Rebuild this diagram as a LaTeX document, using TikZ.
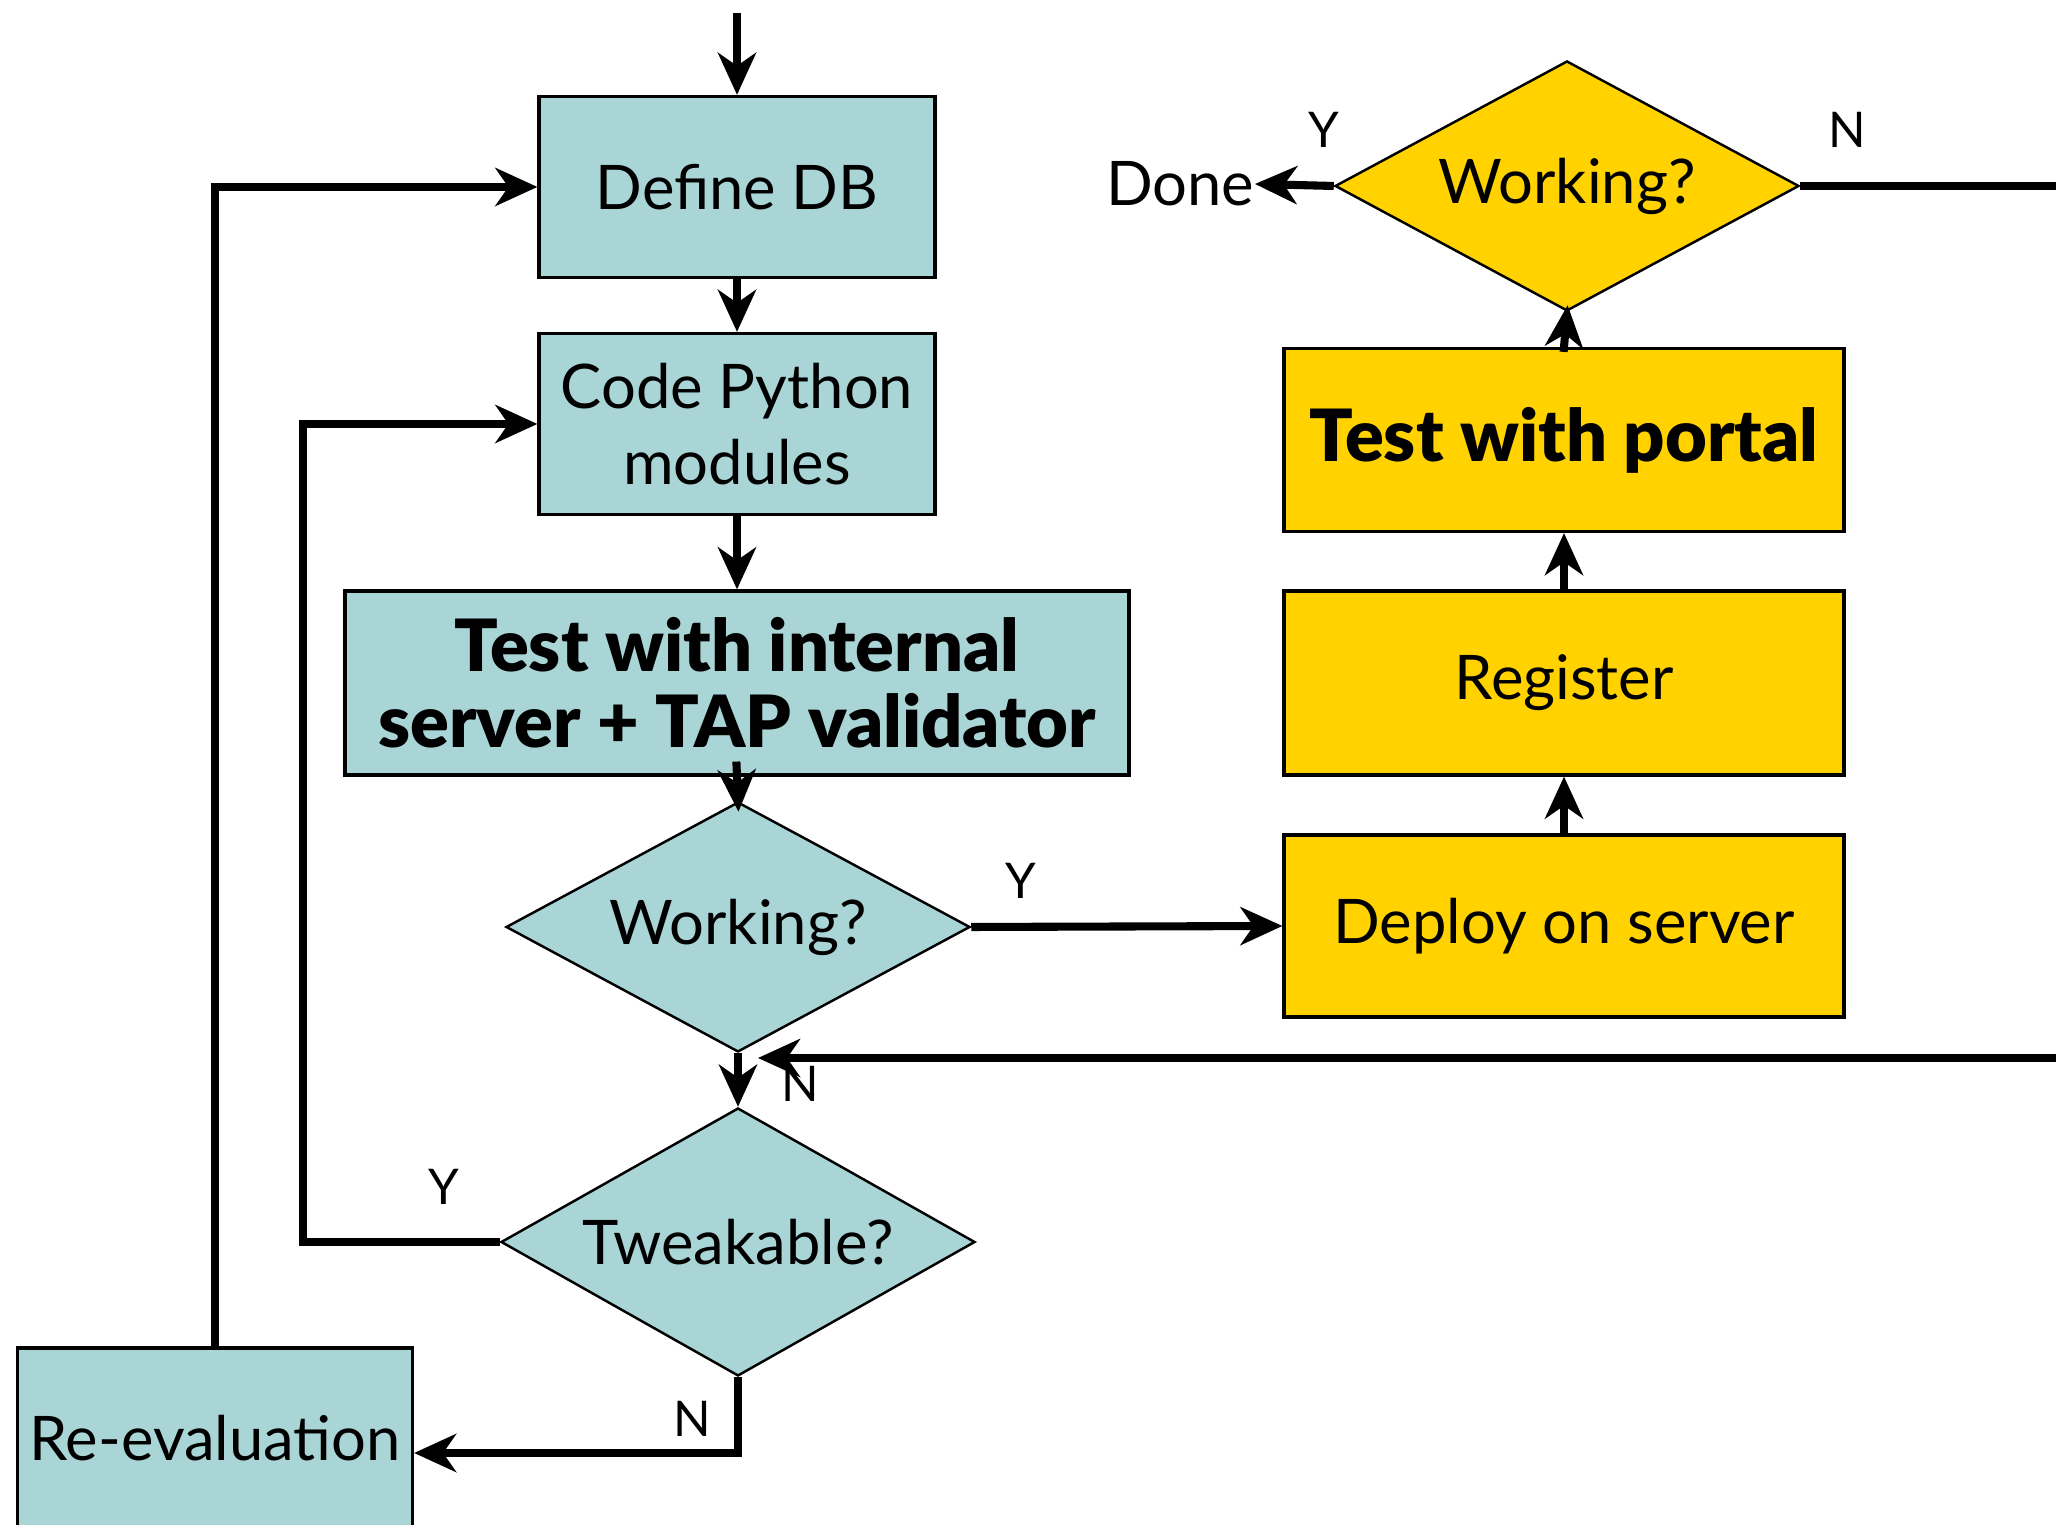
\documentclass[tikz,border=0pt]{standalone}
\usepackage{fontspec}
\setmainfont{Lato}[BoldFont={Lato Black}]
\usepackage{tikz}
\usetikzlibrary{shapes.geometric,arrows.meta}
\definecolor{teal1}{RGB}{169,213,214}
\definecolor{gold1}{RGB}{255,210,0}

\begin{document}
\begin{tikzpicture}[
  box/.style={draw, line width=0.9pt, align=center, inner sep=0pt, font=\fontsize{17.5}{21.5}\selectfont},
  dia/.style={draw, diamond, line width=0.7pt, inner sep=0pt, font=\fontsize{17.5}{21.5}\selectfont},
  conn/.style={line width=2.3pt},
  arr/.style={line width=2.3pt, -{Stealth[length=4.2mm,width=3.8mm,inset=1.3mm]}},
  yn/.style={font=\fontsize{14}{16}\selectfont}
]
\useasboundingbox (0,0) rectangle (20.56,15.25);
% left column
\coordinate (start) at (7.37,15.12);
\node[box, fill=teal1, minimum width=3.96cm, minimum height=1.81cm] (defdb) at (7.37,13.38) {Define DB};
\node[box, fill=teal1, minimum width=3.96cm, minimum height=1.81cm] (code) at (7.37,11.01) {Code Python\\modules};
\node[box, fill=teal1, minimum width=7.84cm, minimum height=1.84cm, font=\fontsize{20.5}{21.5}\selectfont\bfseries] (test1) at (7.37,8.42) {Test with internal\\server + TAP validator};
\node[dia, fill=teal1, aspect=1.856, minimum width=4.64cm, minimum height=2.5cm] (work1) at (7.38,5.98) {Working?};
\node[dia, fill=teal1, aspect=1.77, minimum width=4.74cm, minimum height=2.68cm] (tweak) at (7.38,2.83) {Tweakable?};
\node[box, fill=teal1, minimum width=3.95cm, minimum height=1.80cm] (reeval) at (2.15,0.87) {Re-evaluation};
% right column
\node[box, fill=gold1, minimum width=5.6cm, minimum height=1.82cm] (deploy) at (15.64,5.99) {Deploy on server};
\node[box, fill=gold1, minimum width=5.6cm, minimum height=1.84cm] (reg) at (15.64,8.42) {Register};
\node[box, fill=gold1, minimum width=5.6cm, minimum height=1.83cm, font=\fontsize{20.5}{21.5}\selectfont\bfseries] (test2) at (15.64,10.85) {Test with portal};
\node[dia, fill=gold1, aspect=1.856, minimum width=4.64cm, minimum height=2.5cm] (work2) at (15.67,13.39) {Working?};
\node[font=\fontsize{17.5}{21.5}\selectfont, anchor=east, inner sep=0pt] (done) at (12.55,13.41) {Done};
% begin connectors
\coordinate (edgeA) at (20.56,13.39);
\coordinate (edgeB) at (20.56,4.67);
\coordinate (backin) at (7.58,4.67);
\coordinate (ycorner) at (3.03,11.01);
\coordinate (ncorner) at (7.38,0.72);
\draw[arr] (start)--(defdb.north);
\draw[arr] (defdb.south)--(code.north);
\draw[arr] (code.south)--(test1.north);
\draw[arr, shorten <=-0.15cm, shorten >=-0.11cm] (test1.south)--(work1.north);
\draw[arr] (work1.south)--(tweak.north);
\draw[arr] (work1.east)--(deploy.west);
\draw[arr] (deploy.north)--(reg.south);
\draw[arr] (reg.north)--(test2.south);
\draw[arr, shorten <=-0.05cm, shorten >=-0.07cm] (test2.north)--(work2.south);
\draw[arr] (work2.west)--(done.east);
\draw[conn] (work2.east)--(edgeA);
\draw[arr] (edgeB)--(backin);
\draw[arr] (tweak.west)-|(ycorner)--(code.west);
\draw[arr] (reeval.north)|-(defdb.west);
\draw[arr] (tweak.south)--(ncorner)--(reeval.east |- ncorner);
\node[yn] (y1) at (13.24,13.95) {Y};
\node[yn] (n1) at (18.47,13.95) {N};
\node[yn] (y2) at (10.21,6.44) {Y};
\node[yn] (n2) at (8.00,4.41) {N};
\node[yn] (y3) at (4.44,3.38) {Y};
\node[yn] (n3) at (6.92,1.06) {N};
\end{tikzpicture}
\end{document}
